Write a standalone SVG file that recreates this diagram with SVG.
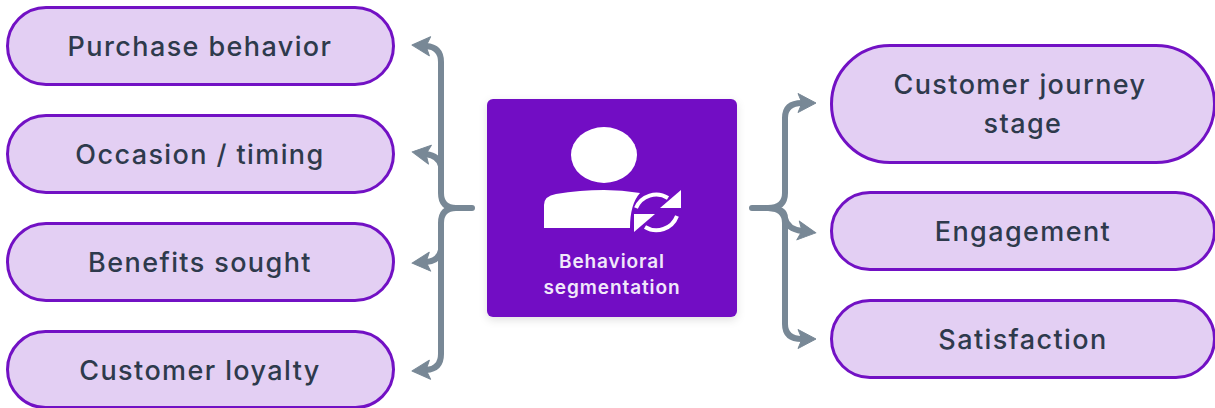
<svg xmlns="http://www.w3.org/2000/svg" width="1215" height="408" viewBox="0 0 1215 408">
<defs>
<marker id="a" markerUnits="userSpaceOnUse" markerWidth="24" markerHeight="24" refX="5" refY="12" orient="auto"><path d="M1 2.500L19 12L1 21.500L5 12Z" fill="#788896" stroke="#788896" stroke-width="1" stroke-linejoin="round"/></marker>
<filter id="s" x="-10%" y="-10%" width="120%" height="125%"><feDropShadow dx="0" dy="3" stdDeviation="4" flood-color="#000" flood-opacity=".12"/></filter>
</defs>
<style>
.n{fill:#e3cff3;stroke:#7211c4;stroke-width:3}
.t{font-family:"Inter","DejaVu Sans",sans-serif;font-size:27px;font-weight:500;fill:#2e3a4c;text-anchor:middle;letter-spacing:1.4px}
.c{fill:none;stroke:#788896;stroke-width:6;stroke-linecap:round;stroke-linejoin:round}
.w{font-family:"Inter","DejaVu Sans",sans-serif;font-size:19px;font-weight:600;fill:#f1e8fa;text-anchor:middle;letter-spacing:.9px}
</style>
<g id="connectors">
<path class="c" d="M472 208H456Q441 208 441 193V62Q441 47 426 46" marker-end="url(#a)"/>
<path class="c" d="M441 166Q439 156 426 154" marker-end="url(#a)"/>
<path class="c" d="M441 250Q439 261 426 262" marker-end="url(#a)"/>
<path class="c" d="M456 208Q441 208 441 223V354Q441 369 426 370" marker-end="url(#a)"/>
<path class="c" d="M752 208H768Q785 208 785 193V118Q785 103 802 103" marker-end="url(#a)"/>
<path class="c" d="M768 208Q785 208 785 218Q787 229 802 231" marker-end="url(#a)"/>
<path class="c" d="M768 208Q785 208 785 223V324Q785 339 802 339" marker-end="url(#a)"/>
</g>
<g id="n1"><rect class="n" x="7.500" y="7.500" width="386" height="77" rx="38.500"/><text class="t" x="200" y="56">Purchase behavior</text></g>
<g id="n2"><rect class="n" x="7.500" y="115.500" width="386" height="77" rx="38.500"/><text class="t" x="200" y="164">Occasion / timing</text></g>
<g id="n3"><rect class="n" x="7.500" y="223.500" width="386" height="77" rx="38.500"/><text class="t" x="200" y="272">Benefits sought</text></g>
<g id="n4"><rect class="n" x="7.500" y="331.500" width="386" height="76" rx="38"/><text class="t" x="200" y="380">Customer loyalty</text></g>
<g id="center"><rect x="487" y="99" width="250" height="218" rx="6" fill="#7211c4" filter="url(#s)"/>
<ellipse cx="604" cy="155" rx="33" ry="28" fill="#fff"/>
<path d="M544 228V205Q544 196 556 194Q580 190 604 190Q622 190 640 193Q630 204 630 228Z" fill="#fff"/>
<path d="M636 208A22 22 0 0 1 668 198" fill="none" stroke="#fff" stroke-width="4"/><path d="M681 190V208H660Z" fill="#fff"/>
<path d="M677 216A22 22 0 0 1 645 227" fill="none" stroke="#fff" stroke-width="4"/><path d="M634 232V214H655Z" fill="#fff"/>
<text class="w" x="612" y="268">Behavioral</text><text class="w" x="612" y="294">segmentation</text></g>
<g id="n5"><rect class="n" x="831.500" y="45.500" width="383" height="117" rx="58.500"/><text class="t" x="1020" y="94">Customer journey</text><text class="t" x="1023" y="133">stage</text></g>
<g id="n6"><rect class="n" x="831.500" y="192.500" width="383" height="77" rx="38.500"/><text class="t" x="1023" y="241">Engagement</text></g>
<g id="n7"><rect class="n" x="831.500" y="300.500" width="383" height="77" rx="38.500"/><text class="t" x="1023" y="349">Satisfaction</text></g>
</svg>
